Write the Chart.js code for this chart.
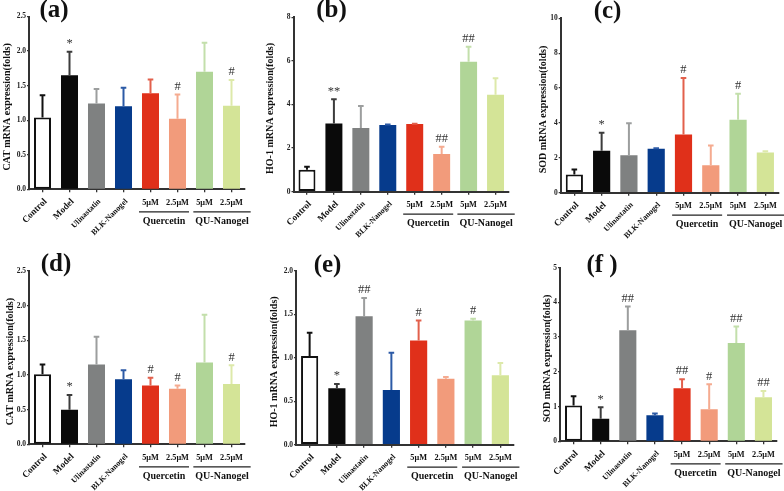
<!DOCTYPE html>
<html><head><meta charset="utf-8">
<script src="https://cdn.jsdelivr.net/npm/chart.js@4"></script>
<style>
html,body{margin:0;padding:0;background:#fff;}
#wrap{position:relative;width:784px;height:491px;overflow:hidden;background:#fff;}
#wrap canvas{position:absolute;left:0;top:0;}
</style></head><body><div id="wrap"></div>
<script>
// ---------- data ----------
const categories = ['Control','Model','Ulinastatin','BLK-Nanogel','Quercetin 5μM','Quercetin 2.5μM','QU-Nanogel 5μM','QU-Nanogel 2.5μM'];
const rotatedLabels = ['Control','Model','Ulinastatin','BLK-Nanogel','','','',''];
const doseLabels = ['','','','','5μM','2.5μM','5μM','2.5μM'];
const groupNames = ['Quercetin','QU-Nanogel'];
const groupFirst = [4,6];

const titleCAT = 'CAT mRNA expression(folds)';
const titleHO1 = 'HO-1 mRNA expression(folds)';
const titleSOD = 'SOD mRNA expression(folds)';

// (a) CAT
const catA = [1.04,1.65,1.24,1.20,1.39,1.02,1.70,1.21];
const catASd = [0.32,0.34,0.21,0.27,0.20,0.35,0.42,0.37];
const catAMarks = ['','*','','','','#','','#'];
// (b) HO-1
const hoB = [1.01,3.13,2.92,3.06,3.10,1.73,5.96,4.45];
const hoBSd = [0.14,1.11,1.01,0.02,0.02,0.33,0.69,0.75];
const hoBMarks = ['','**','','','','##','##',''];
// (c) SOD
const sodC = [1.04,2.41,2.15,2.52,3.33,1.58,4.18,2.31];
const sodCSd = [0.29,1.03,1.83,0.03,3.25,1.12,1.50,0.07];
const sodCMarks = ['','*','','','#','','#',''];
// (d) CAT
const catD = [1.01,0.50,1.15,0.94,0.85,0.80,1.18,0.87];
const catDSd = [0.14,0.21,0.40,0.13,0.11,0.05,0.69,0.27];
const catDMarks = ['','*','','','#','#','','#'];
// (e) HO-1
const hoE = [1.02,0.65,1.48,0.63,1.20,0.76,1.43,0.80];
const hoESd = [0.27,0.05,0.21,0.43,0.23,0.02,0.02,0.14];
const hoEMarks = ['','*','##','','#','','#',''];
// (f) SOD
const sodF = [1.03,0.65,3.20,0.75,1.53,0.92,2.83,1.27];
const sodFSd = [0.27,0.33,0.68,0.05,0.26,0.72,0.48,0.18];
const sodFMarks = ['','*','##','','##','#','##','##'];

// ---------- styles ----------
const fills = ['#ffffff','#0a0a0a','#7f8181','#063b8c','#e0301a','#f29b7b','#b0d597','#d4e497'];
const errColors = ['#111111','#3c3c3c','#9c9e9e','#2c5aa6','#e2604c','#f5ab90','#c3dfab','#dde9aa'];
const SERIF = '"Liberation Serif","Times New Roman",serif';

const panels = [
  {tag:'(a)', title:titleCAT, values:catA, sd:catASd, marks:catAMarks, max:2.5, step:0.5, dec:1,
   g:{axisX:29, top:16.5, right:245, zero:189.3, titleX:7, labelX:54, labelY:11}},
  {tag:'(b)', title:titleHO1, values:hoB, sd:hoBSd, marks:hoBMarks, max:8, step:2, dec:0,
   g:{axisX:293.5, top:17.3, right:509, zero:191.7, titleX:270, labelX:331.5, labelY:11}},
  {tag:'(c)', title:titleSOD, values:sodC, sd:sodCSd, marks:sodCMarks, max:10, step:2, dec:0,
   g:{axisX:560.7, top:18.3, right:779, zero:192.7, titleX:543, labelX:607.5, labelY:12}},
  {tag:'(d)', title:titleCAT, values:catD, sd:catDSd, marks:catDMarks, max:2.5, step:0.5, dec:1,
   g:{axisX:29, top:271, right:245, zero:444.3, titleX:10, labelX:56, labelY:265}},
  {tag:'(e)', title:titleHO1, values:hoE, sd:hoESd, marks:hoEMarks, max:2.0, step:0.5, dec:1,
   g:{axisX:296, top:271, right:514, zero:444.7, titleX:274, labelX:327.5, labelY:266}},
  {tag:'(f )', title:titleSOD, values:sodF, sd:sodFSd, marks:sodFMarks, max:5, step:1, dec:0,
   g:{axisX:560, top:267.7, right:777, zero:441.3, titleX:547, labelX:602, labelY:266}}
];

function makeDecor(p) {
  return {
    id: 'decor',
    afterDatasetsDraw(chart) {
      const ctx = chart.ctx, ys = chart.scales.y;
      const meta = chart.getDatasetMeta(0);
      meta.data.forEach((bar, i) => {
        const v = p.values[i], s = p.sd[i];
        const yBar = ys.getPixelForValue(v);
        const yTop = ys.getPixelForValue(v + s);
        ctx.save();
        ctx.strokeStyle = errColors[i];
        ctx.lineWidth = 2;
        ctx.beginPath();
        ctx.moveTo(bar.x, yBar); ctx.lineTo(bar.x, yTop);
        ctx.moveTo(bar.x - 2.8, yTop); ctx.lineTo(bar.x + 2.8, yTop);
        ctx.stroke();
        if (p.marks[i]) {
          ctx.fillStyle = '#333';
          ctx.font = '12.5px ' + SERIF;
          ctx.textAlign = 'center';
          ctx.textBaseline = 'middle';
          ctx.fillText(p.marks[i], bar.x, yTop - 8);
        }
        ctx.restore();
      });
    },
    afterDraw(chart) {
      const ctx = chart.ctx, xs = chart.scales.x, ys = chart.scales.y;
      const g = p.g;
      const zero = ys.getPixelForValue(0);
      ctx.save();
      ctx.fillStyle = '#111';
      // y title
      ctx.save();
      ctx.translate(g.titleX, (ys.top + ys.bottom) / 2 + 4);
      ctx.rotate(-Math.PI / 2);
      ctx.font = 'bold 10px ' + SERIF;
      ctx.textAlign = 'center'; ctx.textBaseline = 'middle';
      ctx.fillText(p.title, 0, 0);
      ctx.restore();
      // panel tag
      ctx.font = 'bold 25px ' + SERIF;
      ctx.textAlign = 'center'; ctx.textBaseline = 'middle';
      ctx.fillText(p.tag, g.labelX, g.labelY);
      // rotated category labels
      rotatedLabels.forEach((lab, i) => {
        if (!lab) return;
        const x = xs.getPixelForValue(i);
        ctx.save();
        ctx.translate(x + 3, zero + 11);
        ctx.rotate(-45 * Math.PI / 180);
        ctx.font = 'bold ' + (i < 2 ? 9.2 : 8) + 'px ' + SERIF;
        ctx.textAlign = 'right'; ctx.textBaseline = 'middle';
        ctx.fillText(lab, 0, 0);
        ctx.restore();
      });
      // dose labels
      ctx.font = 'bold 8.3px ' + SERIF;
      ctx.textAlign = 'center'; ctx.textBaseline = 'middle';
      doseLabels.forEach((lab, i) => {
        if (!lab) return;
        ctx.fillText(lab, xs.getPixelForValue(i), zero + 13.5);
      });
      // group labels + underline
      groupNames.forEach((name, k) => {
        const c1 = xs.getPixelForValue(groupFirst[k]);
        const c2 = xs.getPixelForValue(groupFirst[k] + 1);
        ctx.font = 'bold 10px ' + SERIF;
        const tw = ctx.measureText(name).width;
        const mid = (c1 + c2) / 2 + (k === 1 ? 4 : 0);
        const w = Math.max(tw + 4, 50);
        ctx.strokeStyle = '#222'; ctx.lineWidth = 1.3;
        ctx.beginPath();
        ctx.moveTo(mid - w / 2, zero + 22.5); ctx.lineTo(mid + w / 2, zero + 22.5);
        ctx.stroke();
        ctx.fillText(name, mid, zero + 32);
      });
      ctx.restore();
    }
  };
}

const wrap = document.getElementById('wrap');
panels.forEach(p => {
  const cv = document.createElement('canvas');
  cv.width = 784; cv.height = 491;
  wrap.appendChild(cv);
  const g = p.g;
  new Chart(cv.getContext('2d'), {
    type: 'bar',
    data: {
      labels: categories,
      datasets: [{
        data: p.values,
        backgroundColor: fills,
        borderColor: '#111',
        borderWidth: categories.map((c, i) => i === 0 ? 2 : 0),
        borderSkipped: false,
        categoryPercentage: 1,
        barPercentage: 0.63
      }]
    },
    options: {
      responsive: false,
      animation: false,
      devicePixelRatio: 1,
      layout: {padding: {left: g.axisX - 40, top: g.top, right: 784 - g.right, bottom: 0}},
      plugins: {legend: {display: false}, tooltip: {enabled: false}},
      scales: {
        x: {
          offset: true,
          grid: {display: true, drawOnChartArea: false, offset: false, color: '#333', lineWidth: 1.3, tickLength: 3},
          border: {color: '#333', width: 2},
          ticks: {display: false},
          afterFit: s => { s.height = 491 - g.zero; }
        },
        y: {
          min: 0, max: p.max,
          grid: {display: true, drawOnChartArea: false, color: '#333', lineWidth: 1.3, tickLength: 2},
          border: {color: '#333', width: 2},
          ticks: {
            stepSize: p.step, padding: 1, color: '#222',
            font: {family: SERIF, size: 7.5, weight: 'bold'},
            callback: v => Number(v).toFixed(p.dec)
          },
          afterFit: s => { s.width = 40; }
        }
      }
    },
    plugins: [makeDecor(p)]
  });
});
</script>
</body></html>
